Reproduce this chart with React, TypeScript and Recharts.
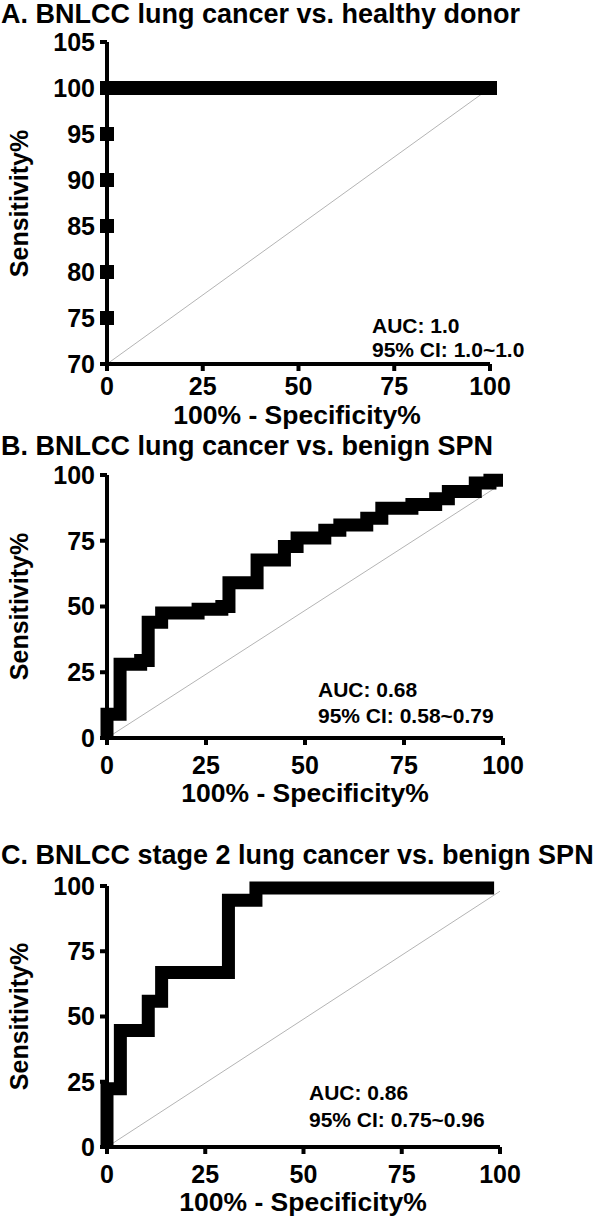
import React from 'react'
import { LineChart, Line, XAxis, YAxis } from 'recharts'

const FONT = '"Liberation Sans", Arial, Helvetica, sans-serif'

const xTicks = [0, 25, 50, 75, 100]
const aTicks = [70, 75, 80, 85, 90, 95, 100, 105]
const bcTicks = [0, 25, 50, 75, 100]

// A. lung cancer vs healthy donor (one marker per donor step)
const aFpr = [
  0, 0, 0, 0, 0,
  0, 2.5, 5, 7.5, 10, 12.5, 15, 17.5, 20, 22.5, 25, 27.5, 30, 32.5, 35, 37.5, 40,
  42.5, 45, 47.5, 50, 52.5, 55, 57.5, 60, 62.5, 65, 67.5, 70, 72.5, 75, 77.5, 80,
  82.5, 85, 87.5, 90, 92.5, 95, 97.5, 100,
]
const aSens = [
  75, 80, 85, 90, 95,
  100, 100, 100, 100, 100, 100, 100, 100, 100, 100, 100, 100, 100, 100, 100, 100, 100,
  100, 100, 100, 100, 100, 100, 100, 100, 100, 100, 100, 100, 100, 100, 100, 100,
  100, 100, 100, 100, 100, 100, 100, 100,
]

// B. lung cancer vs benign SPN
const bFpr = [
  0, 0, 3.3, 3.3, 8.5, 8.5, 10.4, 10.4, 13.8, 13.8, 23, 23, 29, 29, 30.8, 30.8,
  37.9, 37.9, 44.8, 44.8, 48, 48, 55, 55, 58.8, 58.8, 65.6, 65.6, 69.4, 69.4,
  77, 77, 83, 83, 86.2, 86.2, 93, 93, 96.7, 96.7, 100,
]
const bSens = [
  0, 9, 9, 28, 28, 29.5, 29.5, 44, 44, 47.5, 47.5, 49, 49, 50, 50, 59,
  59, 67.7, 67.7, 72.8, 72.8, 76, 76, 79, 79, 81, 81, 83.6, 83.6, 87.4,
  87.4, 88.8, 88.8, 91, 91, 93.7, 93.7, 97, 97, 98, 98,
]

// C. stage 2 lung cancer vs benign SPN
const cFpr = [0, 0, 3.4, 3.4, 10.5, 10.5, 13.9, 13.9, 30.9, 30.9, 37.9, 37.9, 98.5]
const cSens = [0, 22.3, 22.3, 44.6, 44.6, 55.8, 55.8, 66.9, 66.9, 94.5, 94.5, 99.2, 99.2]

const aDiag = [{ x: 0, y: 70 }, { x: 100, y: 100 }]
const bDiag = [{ x: 0, y: 0 }, { x: 100, y: 97 }]
const cDiag = [{ x: 0, y: 0 }, { x: 100, y: 98 }]

type Pt = { x: number; y: number }
const zip = (xs: number[], ys: number[]): Pt[] => xs.map((x, i) => ({ x, y: ys[i] }))

const tickStyle = { fill: '#000', fontSize: 25, fontWeight: 700, fontFamily: FONT }
const axisStroke = { stroke: '#000', strokeWidth: 4 }

function SquareDot(props: any) {
  const { cx, cy, index } = props
  if (cx == null || cy == null) return <g key={index} />
  return <rect key={index} x={cx - 7} y={cy - 7} width={14} height={14} fill="#000" />
}

type PanelProps = {
  top: number
  height: number
  plotTop: number
  plotBottom: number
  plotRight: number
  yDomain: [number, number]
  yTicks: number[]
  curve: Pt[]
  diag: Pt[]
  squares?: boolean
  xTickMargin: number
}

function RocPanel(p: PanelProps) {
  return (
    <div style={{ position: 'absolute', left: 0, top: p.top }}>
      <LineChart
        width={600}
        height={p.height}
        margin={{ top: p.plotTop - p.top, right: 600 - p.plotRight, bottom: 0, left: 0 }}
      >
        <XAxis
          type="number"
          dataKey="x"
          domain={[0, 100]}
          ticks={xTicks}
          interval={0}
          tick={tickStyle}
          tickSize={7}
          tickMargin={p.xTickMargin}
          axisLine={axisStroke}
          tickLine={axisStroke}
          height={p.top + p.height - p.plotBottom}
        />
        <YAxis
          type="number"
          dataKey="y"
          domain={p.yDomain}
          ticks={p.yTicks}
          interval={0}
          tick={tickStyle}
          tickSize={7}
          tickMargin={5}
          axisLine={axisStroke}
          tickLine={axisStroke}
          width={107}
        />
        <Line
          data={p.diag}
          dataKey="y"
          stroke="#b4b4b4"
          strokeWidth={1}
          dot={false}
          isAnimationActive={false}
        />
        {p.squares ? (
          <Line
            data={p.curve}
            dataKey="y"
            stroke="#000"
            strokeWidth={2}
            dot={SquareDot}
            isAnimationActive={false}
          />
        ) : (
          <Line
            data={p.curve}
            dataKey="y"
            stroke="#000"
            strokeWidth={13}
            strokeLinejoin="miter"
            strokeLinecap="butt"
            dot={false}
            isAnimationActive={false}
          />
        )}
      </LineChart>
    </div>
  )
}

const txt = (s: React.CSSProperties): React.CSSProperties => ({
  position: 'absolute',
  fontFamily: FONT,
  fontWeight: 700,
  color: '#000',
  lineHeight: 1,
  whiteSpace: 'nowrap',
  ...s,
})

function YLabel({ cy }: { cy: number }) {
  return (
    <div
      style={txt({
        left: 19 - 100,
        top: cy - 12.5,
        width: 200,
        fontSize: 25,
        textAlign: 'center',
        transform: 'rotate(-90deg)',
      })}
    >
      Sensitivity%
    </div>
  )
}

function XLabel({ cx, top }: { cx: number; top: number }) {
  return (
    <div style={txt({ left: cx - 160, top, width: 320, fontSize: 26.5, textAlign: 'center' })}>
      100% - Specificity%
    </div>
  )
}

export default function App() {
  return (
    <div style={{ position: 'absolute', left: 0, top: 0, width: 600, height: 1229, background: '#fff' }}>
      <div style={txt({ left: 1, top: 1, fontSize: 27 })}>A. BNLCC lung cancer vs. healthy donor</div>
      <RocPanel
        top={0}
        height={440}
        plotTop={42}
        plotBottom={364}
        plotRight={490}
        yDomain={[70, 105]}
        yTicks={aTicks}
        curve={zip(aFpr, aSens)}
        diag={aDiag}
        squares
        xTickMargin={6}
      />
      <YLabel cy={203} />
      <XLabel cx={297} top={402} />
      <div style={txt({ left: 372, top: 315, fontSize: 21 })}>AUC: 1.0</div>
      <div style={txt({ left: 372, top: 339, fontSize: 21 })}>95% CI: 1.0~1.0</div>

      <div style={txt({ left: 1, top: 433, fontSize: 27 })}>B. BNLCC lung cancer vs. benign SPN</div>
      <RocPanel
        top={440}
        height={400}
        plotTop={475}
        plotBottom={738}
        plotRight={503}
        yDomain={[0, 100]}
        yTicks={bcTicks}
        curve={zip(bFpr, bSens)}
        diag={bDiag}
        xTickMargin={11}
      />
      <YLabel cy={606} />
      <XLabel cx={305} top={780} />
      <div style={txt({ left: 318, top: 679, fontSize: 21 })}>AUC: 0.68</div>
      <div style={txt({ left: 318, top: 705, fontSize: 21 })}>95% CI: 0.58~0.79</div>

      <div style={txt({ left: 1, top: 842, fontSize: 27 })}>C. BNLCC stage 2 lung cancer vs. benign SPN</div>
      <RocPanel
        top={840}
        height={389}
        plotTop={886}
        plotBottom={1147}
        plotRight={500}
        yDomain={[0, 100]}
        yTicks={bcTicks}
        curve={zip(cFpr, cSens)}
        diag={cDiag}
        xTickMargin={11}
      />
      <YLabel cy={1016} />
      <XLabel cx={303} top={1189} />
      <div style={txt({ left: 309, top: 1082, fontSize: 21 })}>AUC: 0.86</div>
      <div style={txt({ left: 309, top: 1109, fontSize: 21 })}>95% CI: 0.75~0.96</div>
    </div>
  )
}
